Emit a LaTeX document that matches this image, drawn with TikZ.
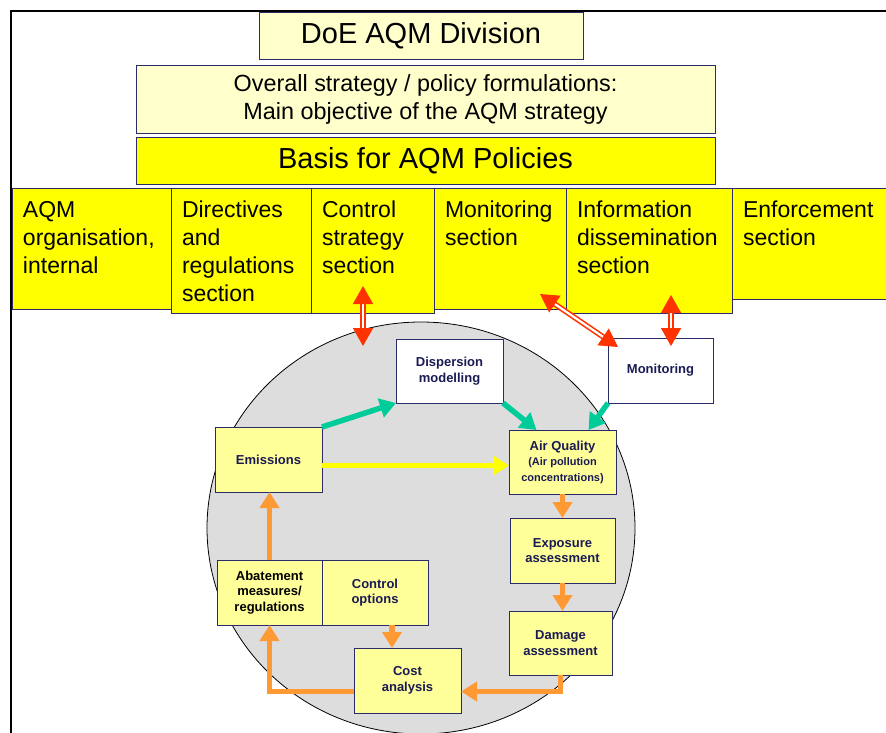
\documentclass[tikz,border=0pt]{standalone}
\usepackage{fontspec}
\setmainfont{Liberation Sans}
\usetikzlibrary{positioning, arrows.meta, calc}

\definecolor{palebox}{HTML}{FFFFCC}
\definecolor{sectyellow}{HTML}{FFFF00}
\definecolor{cycleyellow}{HTML}{FFFF99}
\definecolor{boxline}{HTML}{2B2B6B}
\definecolor{textnavy}{HTML}{1A1A55}
\definecolor{circlegray}{HTML}{DDDDDD}
\definecolor{flowgreen}{HTML}{00CC99}
\definecolor{floworange}{HTML}{FF9933}
\definecolor{flowyellow}{HTML}{FFFF00}
\definecolor{linkred}{HTML}{FF3300}

\begin{document}
\begin{tikzpicture}[x=1pt, y=1pt,
    every node/.style={align=center},
    topbox/.style={draw=boxline, line width=0.8pt, fill=palebox, inner sep=0pt, minimum width=579pt},
    sectbox/.style={draw=boxline, line width=0.8pt, fill=sectyellow, anchor=north west, align=left, outer sep=0pt,
        inner xsep=11pt, inner ysep=10pt, text height=19pt, font=\fontsize{23}{28}\selectfont},
    cyclebox/.style={draw=boxline, line width=1pt, fill=cycleyellow, inner sep=0pt, text=textnavy, outer sep=0pt,
        minimum width=107pt, minimum height=65pt, font=\fontsize{13}{15.5}\selectfont\bfseries},
    flowarrow/.style={line width=5.5pt, -{Triangle[length=16pt,width=19pt]}},
    linkarrow/.style={draw=linkred, double=white, line width=1.6pt, double distance=2.2pt,
        {Triangle[length=18pt,width=20pt]}-{Triangle[length=18pt,width=20pt]}}]
    \useasboundingbox (0,0) rectangle (886,-733);
    \draw[line width=1.5pt] (11,-733) -- (11,-11) -- (886,-11);

    % Division and policy
    \node (doe) [topbox, minimum width=324pt, minimum height=47pt, font=\fontsize{29}{34}\selectfont] at (421,-35.5) {DoE AQM Division};
    \node (strategy) [topbox, minimum height=68pt, below=5.5pt of doe, xshift=4.5pt, font=\fontsize{23.4}{28}\selectfont] {Overall strategy / policy formulations:\\Main objective of the AQM strategy};
    \node (basis) [topbox, fill=sectyellow, minimum height=47pt, below=3pt of strategy, font=\fontsize{29}{34}\selectfont] {Basis for AQM Policies};

    % Sections
    \node (aqmorg) [sectbox, text width=137pt, text depth=82pt] at (12,-188) {AQM\\organisation,\\internal};
    \node (directives) [sectbox, text width=118pt, text depth=86pt, right=0pt of aqmorg.north east, anchor=north west] {Directives\\and\\regulations\\section};
    \node (ctrlsec) [sectbox, text width=101pt, text depth=86pt, right=0pt of directives.north east, anchor=north west] {Control\\strategy\\section};
    \node (monsec) [sectbox, text width=110pt, text depth=82pt, right=0pt of ctrlsec.north east, anchor=north west] {Monitoring\\section};
    \node (infosec) [sectbox, text width=144pt, text depth=86pt, right=0pt of monsec.north east, anchor=north west] {Information\\dissemination\\section};
    \node (enfsec) [sectbox, text width=136pt, text depth=72pt, right=0pt of infosec.north east, anchor=north west] {Enforcement\\section};

    % AQM cycle
    \draw[fill=circlegray, line width=0.8pt] (421,-528) ellipse [x radius=214, y radius=206];
    \node (emis) [cyclebox] at (268.5,-459.5) {Emissions};
    \node (disp) [cyclebox, fill=white, minimum height=64pt] at (449.5,-371) {Dispersion\\modelling};
    \node (mon) [cyclebox, fill=white, minimum width=105pt] at (660.5,-370.5) {Monitoring};
    \node (airq) [cyclebox, minimum height=64pt] at (562.5,-462) {Air Quality\\{\fontsize{11}{13.5}\selectfont (Air pollution}\\{\fontsize{11}{13.5}\selectfont concentrations)}};
    \node (expo) [cyclebox, minimum width=105pt, below=24pt of airq] {Exposure\\assessment};
    \node (damage) [cyclebox, minimum width=103pt, minimum height=64pt, below=28pt of expo, xshift=-2pt] {Damage\\assessment};
    \node (abate) [cyclebox, minimum width=105pt, text=black] at (269.5,-592.5) {Abatement\\measures/\\regulations};
    \node (ctrlopt) [cyclebox, minimum width=106pt, right=0pt of abate] {Control\\options};
    \node (cost) [cyclebox] at (407.5,-680.5) {Cost\\analysis};

    % Flows
    \draw[flowarrow, draw=flowgreen] (emis.north east) -- (disp.south west);
    \draw[flowarrow, draw=flowgreen] (disp.south east) -- ($(airq.north)+(-26,0)$);
    \draw[flowarrow, draw=flowgreen] (mon.south west) -- ($(airq.north)+(26,0)$);
    \draw[flowarrow, draw=flowyellow] ($(emis.east)+(0,-6)$) -- ($(emis.east -| airq.west)+(0,-6)$);
    \draw[flowarrow, draw=floworange] (airq.south) -- (expo.north);
    \draw[flowarrow, draw=floworange] (expo.south) -- (expo.south |- damage.north);
    \draw[flowarrow, draw=floworange] (damage.south) |- ($(cost.east)+(0,-11)$);
    \draw[flowarrow, draw=floworange] ($(ctrlopt.south)+(17,0)$) -- ($(ctrlopt.south |- cost.north)+(17,0)$);
    \draw[flowarrow, draw=floworange] ($(cost.west)+(0,-11)$) -| (abate.south);
    \draw[flowarrow, draw=floworange] (abate.north) -- (abate.north |- emis.south);

    % Links to sections
    \coordinate (ctrltip) at (363,-346);
    \draw[linkarrow] ($(ctrlsec.south)+(-9.5,27)$) -- (ctrltip);
    \draw[linkarrow] ($(monsec.south)+(40,15)$) -- ($(mon.north west)+(10,-9)$);
    \draw[linkarrow] ($(mon.north)+(10.5,-8)$) -- ($(mon.north |- infosec.south)+(10.5,18)$);
\end{tikzpicture}
\end{document}
